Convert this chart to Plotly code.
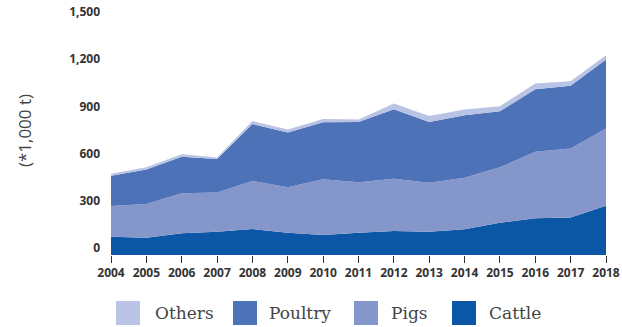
import plotly.graph_objects as go

# Production by meat type (*1,000 t)
years = list(range(2004, 2019))
cattle = [116, 110, 138, 148, 165, 142, 127, 142, 152, 148, 163, 205, 233, 239, 313]
pigs = [195, 214, 254, 250, 305, 288, 354, 320, 333, 311, 328, 352, 423, 438, 491]
poultry = [193, 220, 232, 212, 362, 349, 363, 384, 442, 387, 398, 357, 398, 398, 439]
others = [12, 13, 17, 10, 19, 19, 21, 16, 36, 38, 36, 32, 36, 30, 27]

y_ticks = [0, 300, 600, 900, 1200, 1500]

series = [
    ("Cattle", cattle, "#0b57a6"),
    ("Pigs", pigs, "#8596ca"),
    ("Poultry", poultry, "#4e72b8"),
    ("Others", others, "#b9c3e3"),
]

fig = go.Figure()

# stacked areas, bottom to top
for name, vals, col in series:
    fig.add_trace(go.Scatter(
        x=years,
        y=vals,
        name=name,
        mode="lines",
        stackgroup="one",
        line=dict(width=0, color=col),
        fillcolor=col,
        showlegend=False,
        hoverinfo="skip",
    ))

tick_font = dict(family="Open Sans", size=12, color="#333333", weight="bold")

fig.update_layout(
    width=622,
    height=327,
    margin=dict(l=111, r=16, t=19, b=72),
    plot_bgcolor="white",
    paper_bgcolor="white",
    font=dict(family="Open Sans", color="#333333"),
    xaxis=dict(
        range=[2004, 2018],
        tickmode="array",
        tickvals=years,
        ticktext=[str(y) for y in years],
        ticks="outside",
        ticklen=7,
        tickcolor="#333333",
        tickwidth=1,
        showgrid=False,
        zeroline=False,
        showline=False,
        automargin=False,
        ticklabeloverflow="allow",
        tickfont=tick_font,
    ),
    yaxis=dict(
        range=[0, 1500],
        tickmode="array",
        tickvals=y_ticks,
        ticktext=[f"{v:,}" for v in y_ticks],
        showgrid=False,
        zeroline=False,
        showline=False,
        automargin=False,
        ticklabelstandoff=10,
        ticklabelshift=-7,
        ticklabeloverflow="allow",
        tickfont=tick_font,
    ),
)

# y axis unit label
fig.add_annotation(
    text="(*1,000 t)",
    xref="paper", yref="paper",
    x=(24 - 111) / 495, y=0.525,
    xanchor="center", yanchor="middle",
    textangle=-90,
    showarrow=False,
    font=dict(family="Open Sans", size=17, color="#444444"),
)

# legend: big squares below the chart, top of stack first
legend_x = [116, 233, 354, 452]
legend_text_x = [153, 267, 389, 487]
for i, (name, vals, col) in enumerate(reversed(series)):
    x0 = (legend_x[i] - 111) / 495
    x1 = (legend_x[i] + 24 - 111) / 495
    fig.add_shape(
        type="rect",
        xref="paper", yref="paper",
        x0=x0, x1=x1,
        y0=(255 - 325) / 236, y1=(255 - 301) / 236,
        fillcolor=col, line=dict(width=0),
    )
    fig.add_annotation(
        text=name,
        xref="paper", yref="paper",
        x=(legend_text_x[i] - 111) / 495, y=(255 - 313) / 236,
        xanchor="left", yanchor="middle",
        showarrow=False,
        font=dict(family="DejaVu Serif", size=17, color="#444444"),
    )

# drop the page's default body margin so the figure fills the window
fig.write_html(
    "out.html",
    config={"displayModeBar": False},
    post_script="document.body.style.margin='0';document.body.style.overflow='hidden';",
)
